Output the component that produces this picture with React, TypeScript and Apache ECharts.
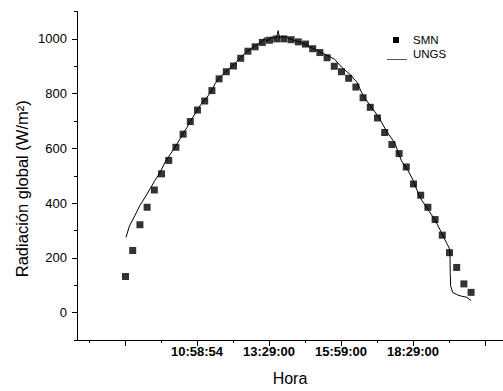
import React, { useEffect, useRef } from "react";
import * as echarts from "echarts";

// SMN measurements (15-minute samples)
const smnTimes = [
  "08:30", "08:45", "09:00", "09:15", "09:30", "09:45", "10:00", "10:15", "10:30", "10:45",
  "11:00", "11:15", "11:30", "11:45", "12:00", "12:15", "12:30", "12:45", "13:00", "13:15",
  "13:30", "13:45", "14:00", "14:15", "14:30", "14:45", "15:00", "15:15", "15:30", "15:45",
  "16:00", "16:15", "16:30", "16:45", "17:00", "17:15", "17:30", "17:45", "18:00", "18:15",
  "18:30", "18:45", "19:00", "19:15", "19:30", "19:45", "20:00", "20:15", "20:30",
];
const smnValues = [
  132, 227, 321, 385, 448, 507, 556, 604, 652, 698,
  740, 773, 811, 854, 880, 901, 929, 955, 971, 987,
  995, 1000, 1000, 997, 989, 981, 964, 950, 931, 900,
  880, 856, 824, 785, 750, 711, 658, 614, 581, 532,
  470, 429, 385, 340, 283, 219, 165, 105, 74,
];

// UNGS measurements
const ungsTimes = [
  "08:31", "08:38", "08:50", "09:00", "09:11", "09:21", "09:31", "09:42", "09:52", "10:03",
  "10:13", "10:22", "10:30", "10:38", "10:45", "10:52", "11:00", "11:07", "11:15", "11:22",
  "11:30", "11:37", "11:45", "11:52", "12:00", "12:07", "12:15", "12:22", "12:30", "12:37",
  "12:45", "12:52", "13:00", "13:07", "13:15", "13:20", "13:23", "13:30", "13:35", "13:40",
  "13:45", "13:48", "13:51", "13:56", "14:00", "14:05", "14:10", "14:15", "14:22", "14:30",
  "14:37", "14:45", "14:52", "15:00", "15:07", "15:15", "15:30", "15:46", "16:00", "16:18",
  "16:32", "16:45", "16:59", "17:17", "17:34", "17:51", "18:05", "18:19", "18:29", "18:43",
  "19:01", "19:15", "19:29", "19:39", "19:44:30", "19:46", "19:46:30", "19:47:24", "19:51:36", "20:00",
  "20:10", "20:21", "20:30",
];
const ungsValues = [
  275, 316, 356, 392, 422, 452, 482, 512, 548, 578,
  604, 630, 655, 676, 700, 718, 742, 760, 777, 792,
  812, 838, 856, 868, 882, 893, 905, 918, 932, 944,
  958, 963, 975, 982, 990, 1005, 992, 998, 1008, 1002,
  1006, 1030, 1003, 1010, 1004, 1008, 1000, 999, 994, 990,
  985, 980, 972, 966, 960, 952, 940, 925, 897, 870,
  842, 793, 758, 716, 662, 620, 554, 518, 484, 422,
  374, 338, 290, 254, 236, 218, 146, 98, 74, 66,
  60, 56, 44,
];

// Axis ticks
const xTickLabels = ["10:58:54", "13:29:00", "15:59:00", "18:29:00"];
const xMajorTicks = ["08:28:54", "10:58:54", "13:29:00", "15:59:00", "18:29:00", "20:59:00"];
const xMinorTicks = ["07:13:54", "09:43:54", "12:14:00", "14:44:00", "17:14:00", "19:44:00"];
const xRange = ["06:48:54", "21:36:30"];
const yTickValues = [0, 200, 400, 600, 800, 1000];
const yMinorTickValues = [-100, 100, 300, 500, 700, 900, 1100];
const yRange = [-100, 1100];

const toMin = (s: string) => {
  const p = s.split(":").map(Number);
  return p[0] * 60 + p[1] + (p[2] || 0) / 60;
};
const pad = (n: number) => (n < 10 ? "0" + n : "" + n);
const fmt = (v: number) => {
  const total = Math.round(v * 60);
  const h = Math.floor(total / 3600);
  const m = Math.floor((total % 3600) / 60);
  const s = total % 60;
  return `${pad(h)}:${pad(m)}:${pad(s)}`;
};

const FONT = "'Liberation Sans', Arial, sans-serif";

export default function App() {
  const ref = useRef<HTMLDivElement>(null);
  useEffect(() => {
    document.body.style.margin = "0";
    const chart = echarts.init(ref.current!, null, { renderer: "svg" });
    const xMin = toMin(xRange[0]);
    const xMax = toMin(xRange[1]);
    const baseX = {
      type: "value" as const,
      min: xMin,
      max: xMax,
      splitLine: { show: false },
    };
    const baseY = {
      type: "value" as const,
      min: yRange[0],
      max: yRange[1],
      splitLine: { show: false },
    };
    chart.setOption({
      animation: false,
      textStyle: { fontFamily: FONT },
      grid: { left: 77, right: 0, top: 11.5, bottom: 45.3 },
      xAxis: [
        {
          ...baseX,
          name: "Hora",
          nameLocation: "middle",
          nameGap: 30,
          nameMoveOverlap: false,
          nameTextStyle: { fontSize: 16, color: "#000", fontFamily: FONT },
          axisLine: { show: true, onZero: false, lineStyle: { color: "#000", width: 1 } },
          axisTick: {
            show: true,
            length: 6,
            lineStyle: { color: "#000" },
            customValues: xMajorTicks.map(toMin),
          },
          axisLabel: {
            show: true,
            margin: 5,
            fontSize: 13,
            fontWeight: "bold",
            color: "#000",
            fontFamily: FONT,
            customValues: xTickLabels.map(toMin),
            formatter: (v: number) => fmt(v),
          },
        },
        {
          ...baseX,
          position: "bottom",
          axisLine: { show: false, onZero: false },
          axisTick: {
            show: true,
            length: 3,
            lineStyle: { color: "#000" },
            customValues: xMinorTicks.map(toMin),
          },
          axisLabel: { show: false },
        },
      ],
      yAxis: [
        {
          ...baseY,
          name: "Radiación global (W/m²)",
          nameLocation: "middle",
          nameGap: 47,
          nameMoveOverlap: false,
          nameTextStyle: {
            fontSize: 16.5,
            color: "#000",
            fontFamily: FONT,
            padding: [0, 26, 0, 0],
          },
          axisLine: { show: true, onZero: false, lineStyle: { color: "#000", width: 1 } },
          axisTick: {
            show: true,
            length: 5,
            lineStyle: { color: "#000" },
            customValues: yTickValues,
          },
          axisLabel: {
            show: true,
            margin: 10,
            fontSize: 13,
            color: "#000",
            fontFamily: FONT,
            customValues: yTickValues,
            formatter: (v: number) => String(v),
          },
        },
        {
          ...baseY,
          position: "left",
          axisLine: { show: false, onZero: false },
          axisTick: {
            show: true,
            length: 3,
            lineStyle: { color: "#000" },
            customValues: yMinorTickValues,
          },
          axisLabel: { show: false },
        },
      ],
      graphic: [
        { type: "rect", shape: { x: 393, y: 37, width: 6, height: 6 }, style: { fill: "#000" } },
        {
          type: "text",
          x: 413,
          y: 40,
          style: { text: "SMN", fontSize: 11.5, fontFamily: FONT, fill: "#000", verticalAlign: "middle" },
        },
        {
          type: "line",
          shape: { x1: 387, y1: 59.5, x2: 407, y2: 59.5 },
          style: { stroke: "#555", lineWidth: 1 },
        },
        {
          type: "text",
          x: 413,
          y: 53.5,
          style: { text: "UNGS", fontSize: 11.5, fontFamily: FONT, fill: "#000", verticalAlign: "middle" },
        },
      ],
      series: [
        {
          name: "UNGS",
          type: "line",
          xAxisIndex: 0,
          yAxisIndex: 0,
          data: ungsTimes.map((t, i) => [toMin(t), ungsValues[i]]),
          showSymbol: false,
          symbol: "none",
          lineStyle: { color: "#000", width: 1 },
          z: 2,
        },
        {
          name: "SMN",
          type: "scatter",
          xAxisIndex: 0,
          yAxisIndex: 0,
          data: smnTimes.map((t, i) => [toMin(t), smnValues[i]]),
          symbol: "rect",
          symbolSize: 7,
          itemStyle: { color: "#000" },
          z: 3,
        },
      ],
    });
    return () => chart.dispose();
  }, []);
  return <div ref={ref} style={{ width: 503, height: 391 }} />;
}
